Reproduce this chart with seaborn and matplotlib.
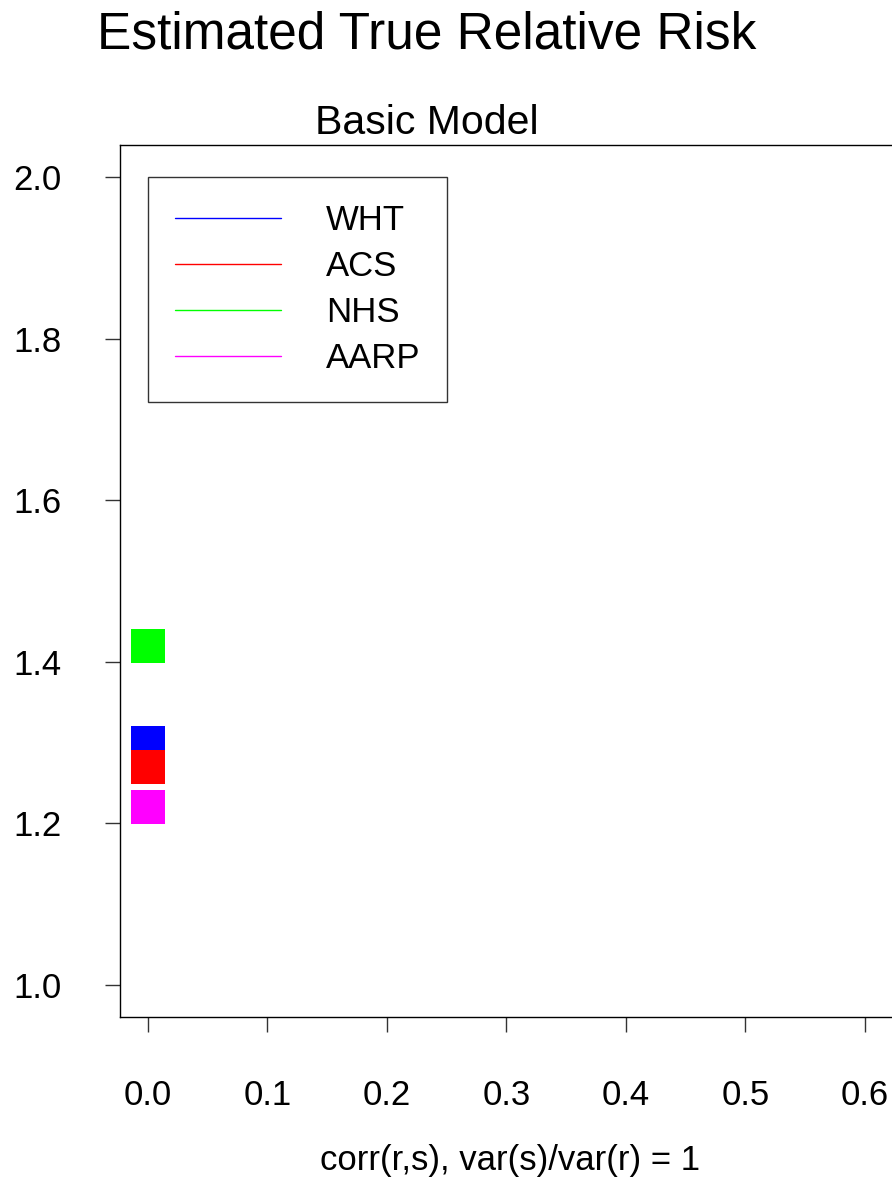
import matplotlib
matplotlib.use("Agg")
import matplotlib.pyplot as plt
from matplotlib.lines import Line2D
import seaborn as sns
import pandas as pd

# data
studies = ["WHT", "ACS", "NHS", "AARP"]
corr_vals = [0.0, 0.0, 0.0, 0.0]
rel_risk = [1.30, 1.27, 1.42, 1.22]
study_colors = ["#0000FF", "#FF0000", "#00FF00", "#FF00FF"]
x_ticks = [0.0, 0.1, 0.2, 0.3, 0.4, 0.5, 0.6]
y_ticks = [1.0, 1.2, 1.4, 1.6, 1.8, 2.0]

df = pd.DataFrame({"corr": corr_vals, "rr": rel_risk, "study": studies})

sns.set_style("ticks")
plt.rcParams["font.family"] = ["Liberation Sans", "DejaVu Sans"]
plt.rcParams["text.color"] = "black"
plt.rcParams["xtick.color"] = "black"
plt.rcParams["ytick.color"] = "black"
plt.rcParams["axes.labelcolor"] = "black"

fig = plt.figure(figsize=(8.92, 11.78), dpi=100)
ax = fig.add_axes([120 / 892, 161 / 1178, 0.8753, 872 / 1178])

sns.scatterplot(data=df, x="corr", y="rr", hue="study", hue_order=studies,
                palette=study_colors, marker="s", s=600, linewidth=0,
                legend=False, ax=ax, zorder=3)

ax.set_xlim(-0.0234, 0.63)
ax.set_ylim(0.9604, 2.0396)
ax.set_xticks(x_ticks)
ax.set_xticklabels([f"{v:.1f}" for v in x_ticks])
ax.set_yticks(y_ticks)
ax.set_yticklabels([f"{v:.1f}" for v in y_ticks])
ax.tick_params(axis="x", bottom=True, direction="out", length=10.8, width=1,
               color="#333333", labelsize=25, pad=34)
ax.tick_params(axis="y", left=True, direction="out", length=10.8, width=1,
               color="#333333", labelsize=25, pad=31.5)
for sp in ax.spines.values():
    sp.set_visible(True)
    sp.set_color("black")
    sp.set_linewidth(1)

ax.set_xlabel("corr(r,s), var(s)/var(r) = 1", fontsize=25, labelpad=23)
ax.set_ylabel("")

handles = [Line2D([0], [0], color=c, lw=1) for c in study_colors]
leg = ax.legend(handles, studies, loc="upper left",
                bbox_to_anchor=(0.036, 0.963), fontsize=25,
                handlelength=3.04, handletextpad=1.3, labelspacing=0.375,
                borderpad=0.78, borderaxespad=0, frameon=True, fancybox=False)
leg.get_frame().set_edgecolor("black")
leg.get_frame().set_linewidth(1)

fig.text(427 / 892, 1 - 35 / 1178, "Estimated True Relative Risk",
         ha="center", va="center", fontsize=37)
fig.text(426.5 / 892, 1 - 123 / 1178, "Basic Model",
         ha="center", va="center", fontsize=29.5)

fig.savefig("out.png", dpi=100)
